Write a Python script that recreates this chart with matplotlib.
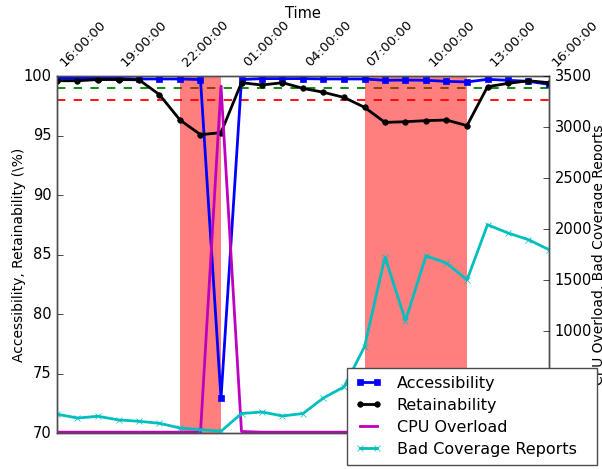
import matplotlib
matplotlib.use("Agg")
import matplotlib.pyplot as plt
import matplotlib.dates as mdates
import pandas as pd
import numpy as np

plt.style.use("classic")
plt.rcParams["figure.facecolor"] = "white"
plt.rcParams["savefig.facecolor"] = "white"
plt.rcParams["font.family"] = ["DejaVu Sans"]
plt.rcParams["font.size"] = 10

times = pd.date_range("2015-06-01 16:00", periods=25, freq="h")

accessibility = [99.8, 99.8, 99.8, 99.8, 99.75, 99.75, 99.75, 99.7, 72.9,
                 99.7, 99.78, 99.78, 99.78, 99.75, 99.75, 99.75, 99.64, 99.66,
                 99.64, 99.55, 99.5, 99.72, 99.64, 99.55, 99.3]
retainability = [99.6, 99.6, 99.7, 99.7, 99.68, 98.43, 96.3, 95.07, 95.24,
                 99.44, 99.24, 99.44, 98.96, 98.63, 98.2, 97.37, 96.1, 96.16,
                 96.25, 96.3, 95.83, 99.1, 99.38, 99.6, 99.44]
cpu_overload = [8, 8, 8, 8, 8, 8, 8, 8, 3400, 15, 8, 8, 8, 8, 8, 8, 8, 8,
                8, 8, 8, 8, 8, 8, 8]
bad_coverage = [184, 147, 164, 128, 115, 95, 49, 33, 17, 191, 206, 167, 191,
                344, 452, 846, 1725, 1101, 1737, 1666, 1501, 2042, 1961, 1895,
                1797]

accessibility_target = 99.0
retainability_target = 98.0
overload_periods = [(6, 8), (15, 20)]

fig = plt.figure(figsize=(6.02, 4.69), dpi=100)
ax = fig.add_axes([57 / 602, 36 / 469, 492 / 602, 357 / 469])
ax2 = ax.twinx()

ax.axhline(accessibility_target, color="g", ls="--", lw=1.3, zorder=1)
ax.axhline(retainability_target, color="r", ls="--", lw=1.3, zorder=1)
for a, b in overload_periods:
    ax.axvspan(times[a], times[b], color="r", alpha=0.5, lw=0, zorder=1.5)

l1, = ax.plot(times, accessibility, color="b", marker="s", ms=5, mec="b",
              lw=2, label="Accessibility", zorder=3)
l2, = ax.plot(times, retainability, color="k", marker="o", ms=4, mec="k",
              lw=2, label="Retainability", zorder=3)
l3, = ax2.plot(times, cpu_overload, color="m", marker=".", ms=2, mec="m",
               lw=2, label="CPU Overload")
l4, = ax2.plot(times, bad_coverage, color="c", marker="x", ms=4, mec="c",
               lw=2, label="Bad Coverage Reports")

ax.set_xlim(times[0], times[-1])
ax.set_ylim(70, 100)
ax2.set_ylim(0, 3500)
ax.set_yticks(np.arange(70, 101, 5))
ax2.set_yticks(np.arange(0, 3501, 500))
ax.tick_params(axis="y", labelsize=10.5)
ax.tick_params(axis="x", labelsize=9.5, pad=5)
ax2.tick_params(labelsize=10.5)

ax.xaxis.tick_top()
ax.xaxis.set_label_position("top")
ax.set_xticks(times[::3])
ax.xaxis.set_major_formatter(mdates.DateFormatter("%H:%M:%S"))
for t in ax.get_xticklabels():
    t.set_rotation(45)
    t.set_ha("left")
ax2.xaxis.set_visible(False)

ax.set_xlabel("Time", fontsize=10.5, labelpad=0)
ax.set_ylabel("Accessibility, Retainability (\\%)", fontsize=10,
              labelpad=-2)
ax2.set_ylabel("CPU Overload, Bad Coverage Reports", fontsize=10,
               labelpad=0)

for s in list(ax.spines.values()) + list(ax2.spines.values()):
    s.set_color("0.3")

leg = ax2.legend([l1, l2, l3, l4],
                 ["Accessibility", "Retainability", "CPU Overload",
                  "Bad Coverage Reports"],
                 loc="lower left", mode="expand",
                 bbox_to_anchor=(347 / 602, 4 / 469, 250 / 602, 96 / 469),
                 bbox_transform=fig.transFigure, fontsize=11.5, numpoints=2,
                 borderaxespad=0, labelspacing=0.44, handlelength=1.7,
                 handletextpad=0.9, borderpad=0.5)
leg.get_frame().set_edgecolor("0.3")
leg.set_zorder(10)

fig.savefig("out.png", dpi=100)
